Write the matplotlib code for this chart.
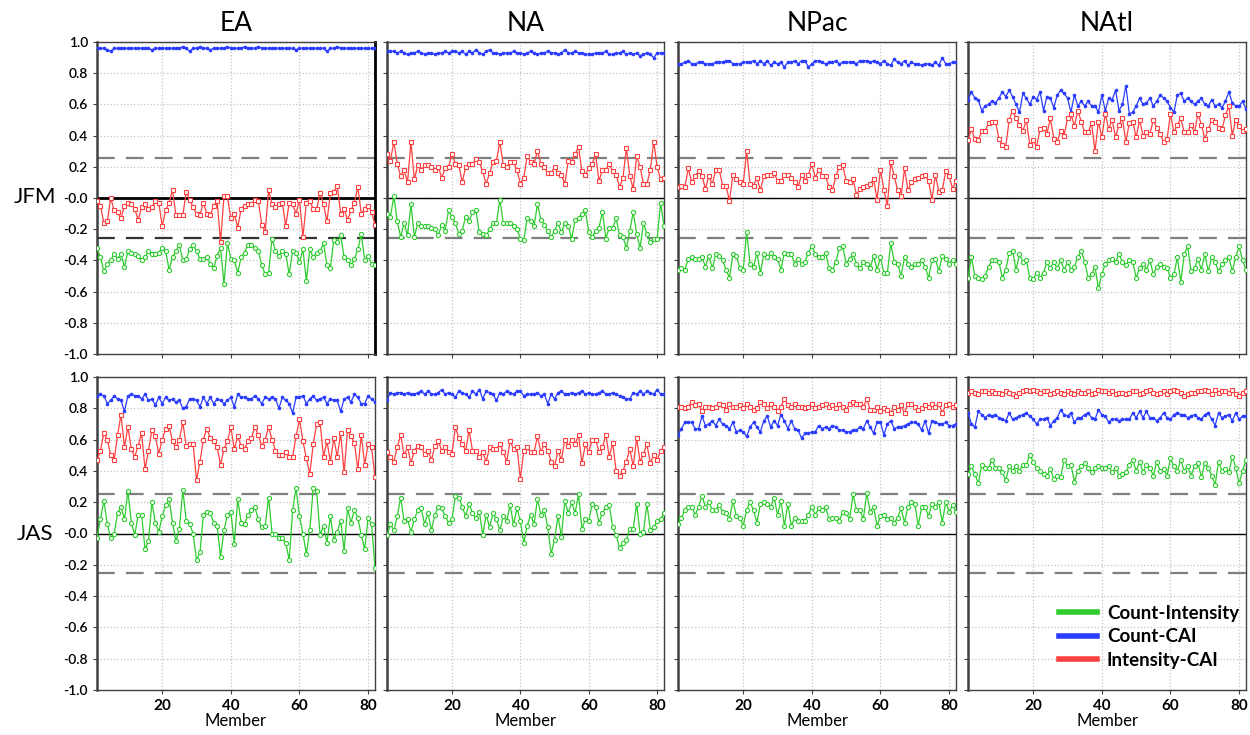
import numpy as np
import matplotlib
matplotlib.use("Agg")
import matplotlib.pyplot as plt
from matplotlib.lines import Line2D

plt.rcParams['font.family'] = ['Lato', 'DejaVu Sans']

regions = ['EA', 'NA', 'NPac', 'NAtl']
seasons = ['JFM', 'JAS']
sig_level = 0.255   # 95% significance for the correlations
series_names = ['Count-Intensity', 'Count-CAI', 'Intensity-CAI']

# ---- JFM ----
ea_jfm_ci = [-0.32,-0.38,-0.47,-0.42,-0.40,-0.36,-0.39,-0.36,-0.44,-0.34,-0.35,-0.36,-0.37,-0.40,-0.38,-0.34,-0.36,-0.36,-0.35,-0.32,-0.34,-0.46,-0.38,-0.34,-0.30,-0.40,-0.39,-0.33,-0.30,-0.34,-0.39,-0.39,-0.38,-0.42,-0.45,-0.37,-0.32,-0.55,-0.29,-0.39,-0.40,-0.48,-0.38,-0.35,-0.30,-0.30,-0.32,-0.34,-0.43,-0.49,-0.48,-0.26,-0.34,-0.37,-0.34,-0.36,-0.49,-0.34,-0.35,-0.41,-0.33,-0.53,-0.33,-0.38,-0.35,-0.34,-0.29,-0.43,-0.45,-0.27,-0.28,-0.24,-0.38,-0.40,-0.43,-0.39,-0.33,-0.23,-0.40,-0.37,-0.42,-0.43]
ea_jfm_cc = [0.96,0.96,0.96,0.95,0.94,0.96,0.96,0.96,0.96,0.96,0.96,0.96,0.96,0.96,0.96,0.96,0.95,0.96,0.96,0.96,0.96,0.96,0.96,0.96,0.96,0.97,0.96,0.94,0.96,0.96,0.97,0.96,0.96,0.95,0.96,0.96,0.96,0.96,0.97,0.96,0.96,0.96,0.96,0.97,0.96,0.96,0.96,0.97,0.96,0.96,0.96,0.96,0.96,0.96,0.96,0.96,0.96,0.96,0.95,0.96,0.96,0.96,0.96,0.96,0.96,0.96,0.96,0.94,0.96,0.96,0.97,0.96,0.96,0.96,0.96,0.96,0.96,0.96,0.96,0.96,0.96,0.96]
ea_jfm_ic = [-0.02,-0.05,-0.16,-0.15,0.00,-0.08,-0.09,-0.13,-0.05,-0.03,-0.04,-0.07,-0.14,-0.06,-0.04,-0.07,-0.06,-0.02,-0.03,-0.18,-0.08,-0.03,0.05,-0.11,-0.11,-0.11,0.04,-0.01,-0.06,-0.10,-0.11,-0.03,-0.10,-0.11,-0.05,-0.02,-0.28,0.01,0.01,-0.13,-0.10,-0.19,-0.07,-0.05,-0.04,-0.04,-0.01,-0.02,-0.17,-0.22,0.05,-0.04,-0.06,-0.04,-0.03,-0.18,-0.03,-0.04,-0.10,-0.01,-0.25,-0.03,-0.02,-0.07,-0.07,0.03,-0.04,-0.15,0.03,0.04,0.08,-0.10,-0.07,-0.14,-0.08,-0.03,0.07,-0.10,-0.07,-0.05,-0.09,-0.17]

na_jfm_ci = [-0.10,-0.12,0.01,-0.15,-0.25,-0.16,-0.24,-0.04,-0.25,-0.16,-0.18,-0.18,-0.18,-0.19,-0.20,-0.24,-0.17,-0.21,-0.08,-0.12,-0.16,-0.23,-0.21,-0.12,-0.15,-0.09,-0.08,-0.22,-0.23,-0.24,-0.20,-0.16,-0.16,-0.01,-0.16,-0.16,-0.16,-0.18,-0.20,-0.26,-0.27,-0.13,-0.15,-0.18,-0.04,-0.14,-0.17,-0.21,-0.25,-0.21,-0.16,-0.22,-0.16,-0.18,-0.26,-0.14,-0.13,-0.10,-0.08,-0.22,-0.25,-0.21,-0.19,-0.09,-0.26,-0.19,-0.19,-0.13,-0.24,-0.25,-0.32,-0.21,-0.09,-0.23,-0.32,-0.16,-0.23,-0.28,-0.26,-0.26,-0.03,-0.18]
na_jfm_cc = [0.94,0.94,0.94,0.93,0.94,0.93,0.92,0.93,0.93,0.94,0.93,0.92,0.93,0.93,0.92,0.93,0.93,0.94,0.93,0.94,0.94,0.93,0.94,0.92,0.94,0.93,0.95,0.93,0.92,0.94,0.95,0.93,0.93,0.92,0.93,0.93,0.93,0.94,0.93,0.93,0.92,0.93,0.94,0.93,0.92,0.93,0.93,0.94,0.93,0.93,0.92,0.93,0.95,0.93,0.93,0.94,0.93,0.93,0.92,0.92,0.92,0.93,0.93,0.93,0.94,0.92,0.92,0.93,0.93,0.94,0.92,0.93,0.92,0.93,0.91,0.92,0.93,0.92,0.90,0.93,0.93,0.93]
na_jfm_ic = [0.28,0.24,0.36,0.22,0.14,0.18,0.10,0.36,0.12,0.21,0.18,0.21,0.21,0.20,0.18,0.20,0.13,0.19,0.20,0.28,0.22,0.21,0.10,0.20,0.22,0.22,0.25,0.23,0.17,0.09,0.16,0.23,0.24,0.36,0.21,0.20,0.23,0.23,0.18,0.09,0.13,0.27,0.23,0.22,0.30,0.22,0.20,0.16,0.16,0.20,0.16,0.15,0.09,0.24,0.23,0.28,0.33,0.17,0.15,0.19,0.22,0.28,0.11,0.18,0.18,0.22,0.17,0.15,0.07,0.13,0.32,0.14,0.06,0.27,0.20,0.09,0.09,0.18,0.36,0.20,0.12,0.13]

npac_jfm_ci = [-0.46,-0.45,-0.46,-0.39,-0.38,-0.39,-0.39,-0.38,-0.44,-0.37,-0.45,-0.36,-0.37,-0.40,-0.46,-0.51,-0.36,-0.37,-0.45,-0.46,-0.22,-0.42,-0.44,-0.35,-0.48,-0.36,-0.38,-0.35,-0.38,-0.39,-0.46,-0.35,-0.36,-0.36,-0.42,-0.39,-0.42,-0.41,-0.35,-0.31,-0.36,-0.38,-0.38,-0.35,-0.45,-0.46,-0.41,-0.32,-0.31,-0.42,-0.39,-0.36,-0.42,-0.45,-0.41,-0.42,-0.45,-0.37,-0.46,-0.38,-0.48,-0.48,-0.29,-0.41,-0.42,-0.50,-0.38,-0.42,-0.44,-0.42,-0.42,-0.40,-0.44,-0.51,-0.40,-0.39,-0.47,-0.37,-0.39,-0.42,-0.40,-0.42]
npac_jfm_cc = [0.86,0.86,0.87,0.88,0.86,0.86,0.87,0.87,0.86,0.86,0.86,0.87,0.87,0.87,0.88,0.88,0.86,0.86,0.86,0.87,0.87,0.87,0.88,0.86,0.88,0.86,0.88,0.85,0.87,0.86,0.87,0.84,0.87,0.87,0.88,0.86,0.88,0.88,0.84,0.86,0.88,0.88,0.87,0.86,0.87,0.87,0.88,0.86,0.87,0.87,0.87,0.87,0.86,0.88,0.88,0.88,0.87,0.88,0.87,0.86,0.88,0.86,0.85,0.89,0.87,0.86,0.88,0.85,0.87,0.86,0.86,0.85,0.86,0.86,0.85,0.87,0.85,0.90,0.86,0.86,0.87,0.87]
npac_jfm_ic = [0.07,0.08,0.07,0.19,0.10,0.14,0.17,0.14,0.06,0.14,0.09,0.18,0.18,0.08,0.08,-0.02,0.15,0.12,0.10,0.09,0.30,0.09,0.08,0.13,0.05,0.14,0.15,0.15,0.16,0.11,0.11,0.15,0.15,0.13,0.10,0.07,0.15,0.11,0.15,0.22,0.13,0.18,0.14,0.14,0.07,0.05,0.14,0.20,0.21,0.11,0.10,0.12,0.02,0.06,0.07,0.08,0.09,0.12,-0.01,0.18,0.05,-0.05,0.23,0.14,0.05,0.01,0.19,0.05,0.10,0.12,0.13,0.14,0.15,0.11,-0.01,0.15,0.04,0.05,0.17,0.14,0.06,0.11]

natl_jfm_ci = [-0.51,-0.38,-0.50,-0.51,-0.52,-0.50,-0.44,-0.40,-0.40,-0.41,-0.51,-0.46,-0.35,-0.34,-0.46,-0.36,-0.41,-0.40,-0.51,-0.52,-0.48,-0.51,-0.48,-0.41,-0.45,-0.41,-0.45,-0.40,-0.46,-0.41,-0.46,-0.44,-0.38,-0.34,-0.41,-0.51,-0.49,-0.44,-0.58,-0.49,-0.42,-0.40,-0.39,-0.41,-0.36,-0.41,-0.43,-0.40,-0.41,-0.51,-0.45,-0.42,-0.46,-0.40,-0.49,-0.44,-0.42,-0.44,-0.45,-0.51,-0.49,-0.38,-0.54,-0.36,-0.31,-0.47,-0.45,-0.39,-0.46,-0.36,-0.47,-0.38,-0.41,-0.47,-0.42,-0.40,-0.38,-0.47,-0.38,-0.31,-0.40,-0.46]
natl_jfm_cc = [0.63,0.68,0.64,0.63,0.56,0.59,0.60,0.62,0.61,0.64,0.68,0.65,0.69,0.65,0.60,0.55,0.67,0.64,0.60,0.65,0.63,0.68,0.56,0.65,0.64,0.58,0.66,0.69,0.67,0.64,0.55,0.66,0.59,0.62,0.59,0.62,0.59,0.59,0.55,0.66,0.56,0.64,0.63,0.69,0.56,0.60,0.72,0.54,0.55,0.59,0.64,0.60,0.61,0.64,0.59,0.62,0.66,0.64,0.62,0.58,0.55,0.66,0.67,0.62,0.64,0.62,0.60,0.62,0.64,0.60,0.59,0.63,0.59,0.60,0.58,0.62,0.68,0.61,0.59,0.59,0.62,0.57]
natl_jfm_ic = [0.37,0.44,0.38,0.37,0.43,0.43,0.48,0.49,0.49,0.38,0.34,0.33,0.50,0.56,0.51,0.47,0.43,0.50,0.34,0.37,0.33,0.44,0.45,0.41,0.51,0.38,0.36,0.43,0.40,0.51,0.54,0.46,0.56,0.49,0.42,0.42,0.48,0.30,0.49,0.39,0.54,0.44,0.50,0.39,0.47,0.51,0.36,0.48,0.49,0.39,0.50,0.40,0.42,0.41,0.50,0.45,0.41,0.36,0.38,0.54,0.42,0.47,0.51,0.42,0.42,0.47,0.42,0.54,0.47,0.38,0.44,0.50,0.49,0.45,0.44,0.53,0.59,0.40,0.50,0.46,0.43,0.44]

# ---- JAS ----
ea_jas_ci = [-0.03,0.09,0.21,0.06,-0.03,0.00,0.13,0.17,0.09,0.27,0.07,-0.01,0.12,0.12,-0.10,-0.05,0.20,0.07,0.01,0.11,0.18,0.22,0.07,-0.05,0.03,0.28,0.08,0.06,0.00,-0.17,-0.12,0.12,0.14,0.13,0.07,0.05,-0.15,0.02,0.12,0.14,-0.07,0.22,0.07,0.06,0.12,0.15,0.17,0.09,0.04,0.05,0.23,0.00,0.00,-0.03,-0.03,-0.06,-0.17,0.15,0.29,0.11,0.00,-0.13,0.02,0.29,0.27,-0.01,0.05,-0.06,0.11,-0.04,0.01,0.08,-0.11,0.16,0.07,0.15,0.10,-0.01,-0.10,0.10,0.06,-0.22]
ea_jas_cc = [0.88,0.89,0.88,0.83,0.85,0.88,0.86,0.85,0.78,0.88,0.89,0.88,0.88,0.86,0.89,0.85,0.86,0.82,0.87,0.83,0.87,0.85,0.86,0.84,0.85,0.80,0.81,0.86,0.86,0.85,0.81,0.87,0.83,0.87,0.83,0.86,0.85,0.83,0.85,0.87,0.81,0.89,0.87,0.87,0.86,0.86,0.88,0.86,0.83,0.87,0.86,0.87,0.86,0.80,0.87,0.85,0.83,0.77,0.87,0.87,0.88,0.83,0.86,0.88,0.85,0.86,0.87,0.83,0.86,0.85,0.85,0.78,0.86,0.87,0.84,0.89,0.87,0.83,0.83,0.88,0.86,0.84]
ea_jas_ic = [0.47,0.53,0.64,0.60,0.50,0.47,0.63,0.76,0.55,0.68,0.54,0.49,0.56,0.64,0.41,0.53,0.66,0.62,0.51,0.60,0.67,0.69,0.59,0.55,0.60,0.71,0.56,0.57,0.57,0.34,0.46,0.60,0.67,0.61,0.59,0.55,0.44,0.54,0.59,0.68,0.54,0.62,0.56,0.54,0.59,0.61,0.68,0.63,0.56,0.60,0.68,0.60,0.53,0.50,0.50,0.52,0.49,0.49,0.62,0.73,0.59,0.48,0.38,0.57,0.70,0.71,0.49,0.59,0.46,0.61,0.49,0.64,0.39,0.66,0.62,0.58,0.41,0.63,0.44,0.57,0.55,0.36]

na_jas_ci = [-0.01,0.06,0.02,0.11,0.23,0.08,0.09,0.01,0.09,0.15,0.16,0.06,0.13,0.02,0.12,0.17,0.16,0.11,0.07,0.09,0.24,0.23,0.17,0.11,0.19,0.13,0.10,0.14,-0.01,0.12,0.04,0.13,0.09,0.02,0.11,0.08,0.18,0.06,0.16,0.08,-0.06,0.05,0.12,0.06,0.22,0.12,0.15,0.04,-0.13,-0.04,0.11,-0.02,0.21,0.13,0.20,0.13,0.25,0.03,0.09,0.08,0.19,0.17,0.07,0.13,0.17,0.18,0.04,-0.01,-0.09,-0.06,-0.04,0.03,0.03,0.19,0.00,0.01,0.19,0.02,0.04,0.08,0.09,0.13]
na_jas_cc = [0.85,0.90,0.89,0.90,0.90,0.89,0.90,0.89,0.89,0.90,0.91,0.89,0.91,0.89,0.89,0.90,0.92,0.89,0.90,0.89,0.87,0.91,0.90,0.89,0.87,0.91,0.89,0.92,0.86,0.91,0.90,0.89,0.85,0.90,0.89,0.91,0.90,0.89,0.91,0.91,0.88,0.89,0.89,0.89,0.90,0.88,0.89,0.83,0.89,0.86,0.90,0.91,0.89,0.89,0.90,0.89,0.90,0.91,0.89,0.90,0.89,0.89,0.90,0.91,0.89,0.89,0.90,0.89,0.88,0.87,0.86,0.86,0.90,0.89,0.91,0.89,0.91,0.90,0.89,0.92,0.89,0.89]
na_jas_ic = [0.52,0.49,0.46,0.55,0.63,0.50,0.55,0.45,0.53,0.56,0.55,0.51,0.53,0.47,0.56,0.59,0.53,0.55,0.52,0.51,0.68,0.61,0.57,0.53,0.66,0.53,0.53,0.49,0.52,0.46,0.55,0.54,0.54,0.57,0.52,0.46,0.59,0.54,0.55,0.35,0.53,0.55,0.52,0.52,0.62,0.52,0.57,0.53,0.46,0.43,0.53,0.47,0.60,0.56,0.60,0.57,0.63,0.45,0.57,0.52,0.60,0.60,0.52,0.55,0.63,0.49,0.58,0.40,0.37,0.40,0.46,0.54,0.43,0.61,0.46,0.51,0.57,0.45,0.50,0.47,0.53,0.55]

npac_jas_ci = [0.06,0.10,0.15,0.17,0.17,0.12,0.17,0.24,0.17,0.20,0.15,0.15,0.18,0.14,0.13,0.09,0.21,0.11,0.10,0.05,0.15,0.20,0.15,0.07,0.19,0.20,0.19,0.17,0.23,0.12,0.21,0.05,0.19,0.05,0.10,0.08,0.08,0.08,0.12,0.17,0.12,0.16,0.15,0.17,0.09,0.10,0.10,0.08,0.14,0.13,0.09,0.25,0.15,0.15,0.09,0.26,0.14,0.17,0.05,0.11,0.12,0.09,0.10,0.07,0.10,0.16,0.07,0.17,0.20,0.19,0.05,0.17,0.17,0.11,0.19,0.17,0.20,0.07,0.20,0.14,0.18,0.14]
npac_jas_cc = [0.63,0.67,0.71,0.71,0.71,0.67,0.67,0.75,0.69,0.70,0.72,0.69,0.73,0.70,0.69,0.67,0.71,0.65,0.66,0.65,0.62,0.68,0.71,0.68,0.65,0.72,0.75,0.68,0.72,0.69,0.76,0.72,0.67,0.72,0.67,0.66,0.61,0.64,0.64,0.65,0.65,0.69,0.67,0.68,0.67,0.69,0.68,0.66,0.66,0.65,0.65,0.66,0.66,0.68,0.67,0.72,0.68,0.64,0.71,0.71,0.63,0.70,0.72,0.67,0.68,0.68,0.69,0.70,0.71,0.71,0.70,0.66,0.72,0.64,0.72,0.71,0.70,0.70,0.71,0.69,0.69,0.70]
npac_jas_ic = [0.81,0.81,0.80,0.81,0.84,0.82,0.83,0.78,0.81,0.81,0.80,0.81,0.83,0.82,0.79,0.83,0.81,0.81,0.82,0.80,0.83,0.81,0.79,0.80,0.84,0.83,0.80,0.83,0.81,0.78,0.81,0.86,0.82,0.81,0.83,0.81,0.81,0.80,0.81,0.83,0.80,0.81,0.82,0.83,0.81,0.82,0.80,0.83,0.81,0.79,0.83,0.84,0.83,0.83,0.81,0.86,0.79,0.79,0.81,0.78,0.80,0.79,0.77,0.81,0.79,0.82,0.77,0.83,0.83,0.81,0.79,0.80,0.82,0.81,0.83,0.81,0.83,0.77,0.82,0.83,0.81,0.82]

natl_jas_ci = [0.38,0.43,0.38,0.32,0.44,0.42,0.42,0.47,0.42,0.42,0.39,0.34,0.43,0.40,0.43,0.40,0.44,0.44,0.50,0.46,0.42,0.40,0.38,0.37,0.41,0.35,0.37,0.36,0.47,0.43,0.44,0.33,0.40,0.43,0.45,0.42,0.39,0.42,0.43,0.42,0.42,0.43,0.39,0.42,0.37,0.38,0.39,0.44,0.47,0.40,0.46,0.39,0.44,0.42,0.37,0.46,0.40,0.41,0.37,0.48,0.43,0.40,0.47,0.40,0.43,0.37,0.43,0.45,0.36,0.45,0.42,0.37,0.31,0.46,0.40,0.41,0.39,0.49,0.42,0.32,0.40,0.47]
natl_jas_cc = [0.77,0.70,0.68,0.78,0.76,0.74,0.76,0.75,0.76,0.74,0.73,0.72,0.77,0.73,0.74,0.75,0.76,0.77,0.75,0.73,0.70,0.73,0.73,0.74,0.69,0.72,0.74,0.79,0.76,0.75,0.77,0.71,0.74,0.74,0.76,0.77,0.74,0.73,0.79,0.76,0.75,0.71,0.73,0.73,0.72,0.73,0.73,0.73,0.77,0.74,0.78,0.74,0.78,0.74,0.74,0.72,0.74,0.77,0.74,0.73,0.76,0.77,0.76,0.76,0.74,0.75,0.76,0.74,0.73,0.76,0.77,0.73,0.69,0.77,0.74,0.75,0.76,0.72,0.77,0.73,0.75,0.75]
natl_jas_ic = [0.90,0.91,0.90,0.89,0.91,0.91,0.90,0.91,0.90,0.90,0.89,0.91,0.90,0.89,0.88,0.90,0.91,0.92,0.91,0.92,0.91,0.90,0.91,0.91,0.89,0.90,0.91,0.90,0.89,0.91,0.90,0.89,0.91,0.90,0.90,0.91,0.89,0.90,0.92,0.91,0.91,0.90,0.91,0.89,0.90,0.90,0.89,0.90,0.91,0.91,0.89,0.90,0.91,0.92,0.90,0.89,0.90,0.91,0.89,0.91,0.92,0.91,0.90,0.88,0.89,0.90,0.90,0.91,0.91,0.92,0.91,0.89,0.92,0.90,0.91,0.91,0.90,0.92,0.89,0.88,0.90,0.91]

panels = {
    ('JFM', 'EA'): (ea_jfm_ci, ea_jfm_cc, ea_jfm_ic),
    ('JFM', 'NA'): (na_jfm_ci, na_jfm_cc, na_jfm_ic),
    ('JFM', 'NPac'): (npac_jfm_ci, npac_jfm_cc, npac_jfm_ic),
    ('JFM', 'NAtl'): (natl_jfm_ci, natl_jfm_cc, natl_jfm_ic),
    ('JAS', 'EA'): (ea_jas_ci, ea_jas_cc, ea_jas_ic),
    ('JAS', 'NA'): (na_jas_ci, na_jas_cc, na_jas_ic),
    ('JAS', 'NPac'): (npac_jas_ci, npac_jas_cc, npac_jas_ic),
    ('JAS', 'NAtl'): (natl_jas_ci, natl_jas_cc, natl_jas_ic),
}

GREEN = '#2ecc2e'
BLUE = '#2a3cff'
RED = '#ff4040'

W, H = 1250, 735
fig = plt.figure(figsize=(12.5, 7.35), dpi=100)

# panel frames in pixels (left, top, right, bottom)
col_x = [(97, 375), (387, 664), (678, 956), (968, 1246)]
row_y = [(42, 354), (377, 690)]

for r, season in enumerate(seasons):
    for c, region in enumerate(regions):
        x0, x1 = col_x[c]
        y0, y1 = row_y[r]
        ax = fig.add_axes([x0 / W, 1 - y1 / H, (x1 - x0) / W, (y1 - y0) / H])
        ci, cc, ic = panels[(season, region)]

        ax.set_xlim(1, 82)
        ax.set_ylim(-1, 1)
        ax.set_xticks([20, 40, 60, 80])
        ax.set_yticks(np.arange(-1.0, 1.01, 0.2))
        ax.grid(True, color='#c4c4c4', linestyle=':', linewidth=0.9)
        ax.set_axisbelow(True)

        heavy = (season == 'JFM' and region == 'EA')
        ax.axhline(0, color='black', lw=2.0 if heavy else 1.0, zorder=2)
        ax.axhline(sig_level, color='#7f7f7f', lw=1.6, dashes=(8, 5), zorder=2)
        ax.axhline(-sig_level, color='#333333' if heavy else '#7f7f7f', lw=1.6, dashes=(8, 5), zorder=2)

        ax.plot(np.arange(1, len(cc) + 1), cc, color=BLUE, lw=0.9, marker='o', ms=1.6,
                mfc=BLUE, mec=BLUE, zorder=3)
        ax.plot(np.arange(1, len(ic) + 1), ic, color=RED, lw=0.9, marker='s', ms=3.0,
                mfc='white', mec=RED, mew=0.8, zorder=3)
        ax.plot(np.arange(1, len(ci) + 1), ci, color=GREEN, lw=0.9, marker='o', ms=3.0,
                mfc='white', mec=GREEN, mew=0.8, zorder=3)

        for side in ['left', 'right', 'top', 'bottom']:
            ax.spines[side].set_color('#404040')
            ax.spines[side].set_linewidth(1.0)
        ax.spines['left'].set_linewidth(1.8)
        if heavy:
            ax.spines['right'].set_color('black')
            ax.spines['right'].set_linewidth(2.0)

        ax.tick_params(axis='both', length=3, color='#404040')
        if c == 0:
            ax.set_yticklabels(['%.1f' % v for v in np.arange(-1.0, 1.01, 0.2)],
                               fontsize=10, fontweight='semibold')
        else:
            ax.set_yticklabels([])
        if r == 1:
            ax.set_xticklabels(['20', '40', '60', '80'], fontsize=11, fontweight='bold')
            ax.set_xlabel('Member', fontsize=12, labelpad=0)
        else:
            ax.set_xticklabels([])
        if r == 0:
            ax.set_title(region, fontsize=19, pad=8)

        if season == 'JAS' and region == 'NAtl':
            handles = [Line2D([], [], color=GREEN, lw=4),
                       Line2D([], [], color=BLUE, lw=4),
                       Line2D([], [], color=RED, lw=4)]
            ax.legend(handles, series_names, loc='upper left', bbox_to_anchor=(0.267, 0.326),
                      frameon=False, handlelength=2.0, handletextpad=0.55,
                      labelspacing=0.35, prop={'size': 13.5, 'weight': 'bold'})

# season labels on the left, centred on each row's zero line
fig.text(35 / W, 1 - 197 / H, 'JFM', fontsize=16, ha='center', va='center')
fig.text(35 / W, 1 - 534 / H, 'JAS', fontsize=16, ha='center', va='center')

fig.savefig('out.png', dpi=100)
